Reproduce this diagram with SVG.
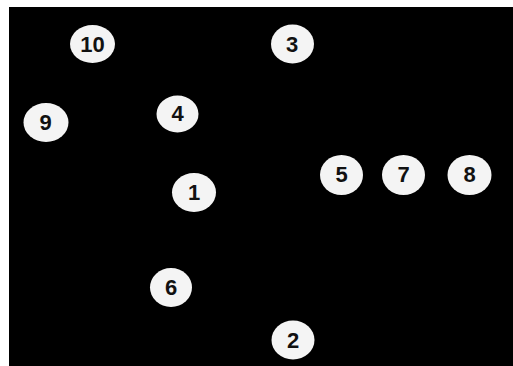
<svg xmlns="http://www.w3.org/2000/svg" width="513" height="366" viewBox="0 0 513 366">
<style>
.n ellipse{fill:#f4f4f4;stroke:none}
.n text{font-family:"Liberation Sans",Arial,sans-serif;font-weight:bold;font-size:22px;fill:#111;text-anchor:middle;dominant-baseline:central}
</style>
<rect x="0" y="0" width="513" height="366" fill="#fff"/>
<rect x="9" y="7" width="504" height="359" fill="#000"/>
<g id="connectors"></g>
<g id="n10" class="n"><ellipse cx="92.5" cy="44" rx="22.5" ry="19"/><text x="92.5" y="44">10</text></g>
<g id="n3" class="n"><ellipse cx="292.5" cy="44" rx="21.5" ry="19.5"/><text x="292" y="44">3</text></g>
<g id="n4" class="n"><ellipse cx="177.5" cy="114" rx="21" ry="18.5"/><text x="177.5" y="113.5">4</text></g>
<g id="n9" class="n"><ellipse cx="46" cy="122.5" rx="22.5" ry="19.5"/><text x="45.5" y="122.5">9</text></g>
<g id="n1" class="n"><ellipse cx="194" cy="192.5" rx="22" ry="19.5"/><text x="194" y="192.5">1</text></g>
<g id="n5" class="n"><ellipse cx="341.5" cy="175" rx="21.5" ry="20"/><text x="341.5" y="174.5">5</text></g>
<g id="n7" class="n"><ellipse cx="403.5" cy="175" rx="21.5" ry="20"/><text x="403.5" y="174.5">7</text></g>
<g id="n8" class="n"><ellipse cx="469.5" cy="175" rx="22" ry="20"/><text x="469.5" y="174.5">8</text></g>
<g id="n6" class="n"><ellipse cx="171" cy="287.5" rx="21" ry="19.5"/><text x="171" y="287.5">6</text></g>
<g id="n2" class="n"><ellipse cx="293" cy="340" rx="21.5" ry="19.5"/><text x="293" y="340">2</text></g>
</svg>
